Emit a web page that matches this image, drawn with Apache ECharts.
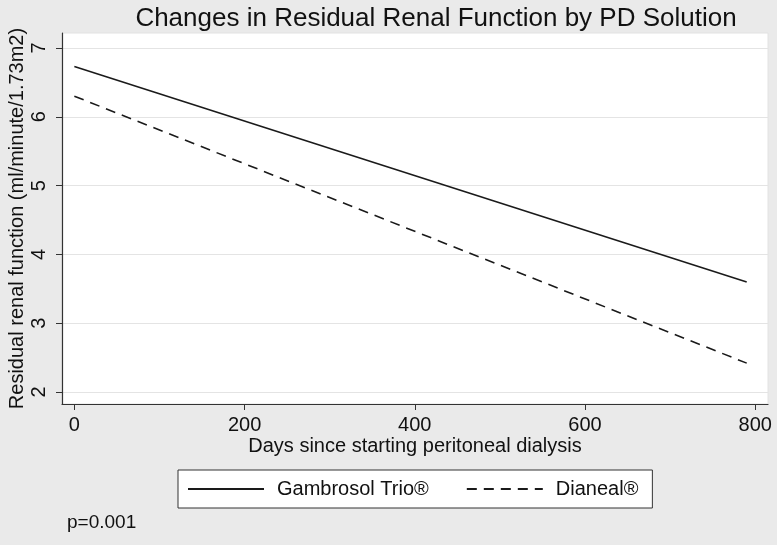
<!DOCTYPE html>
<html>
<head>
<meta charset="utf-8">
<script src="https://cdn.jsdelivr.net/npm/echarts@6/dist/echarts.min.js"></script>
<style>
html,body{margin:0;padding:0;background:#eaeaea;}
#chart{width:777px;height:545px;}
</style>
</head>
<body>
<div id="chart"></div>
<script>
var days = [0, 790];
var gambrosol = [6.73, 3.60];
var dianeal = [6.30, 2.42];
var xTicks = [0, 200, 400, 600, 800];
var yTicks = [2, 3, 4, 5, 6, 7];
var seriesNames = ['Gambrosol Trio®', 'Dianeal®'];

var FONT = '"Liberation Sans", Arial, Helvetica, sans-serif';
var chart = echarts.init(document.getElementById('chart'), null, {renderer: 'canvas'});

function pairs(xs, ys) { return xs.map(function (x, i) { return [x, ys[i]]; }); }

chart.setOption({
  backgroundColor: '#eaeaea',
  animation: false,
  textStyle: {fontFamily: FONT},
  title: {
    text: 'Changes in Residual Renal Function by PD Solution',
    left: 431, top: 1, textAlign: 'center',
    textStyle: {fontFamily: FONT, fontSize: 26, fontWeight: 'normal', color: '#111'}
  },
  grid: {
    left: 62, right: 9, top: 33, bottom: 141,
    containLabel: false, outerBoundsMode: 'none',
    show: true, backgroundColor: '#ffffff', borderColor: '#e2e2e2', borderWidth: 1
  },
  legend: {
    left: 178, top: 470,
    data: seriesNames,
    itemWidth: 76, itemHeight: 14, itemGap: 37,
    padding: [9, 14, 9, 9],
    borderColor: '#333', borderWidth: 1, backgroundColor: '#ffffff',
    itemStyle: {opacity: 0},
    textStyle: {fontFamily: FONT, fontSize: 20, color: '#111', padding: [0, 0, 0, 8]}
  },
  xAxis: {
    type: 'value', min: -14.5, max: 815,
    name: 'Days since starting peritoneal dialysis',
    nameLocation: 'middle', nameGap: 32, nameMoveOverlap: false,
    nameTextStyle: {fontFamily: FONT, fontSize: 20, color: '#111'},
    axisLine: {show: true, onZero: false, lineStyle: {color: '#333', width: 1.2}},
    axisTick: {show: true, length: 6, lineStyle: {color: '#333'}, customValues: xTicks},
    axisLabel: {customValues: xTicks, fontSize: 20, color: '#111', margin: 11, fontFamily: FONT},
    splitLine: {show: false}
  },
  yAxis: {
    type: 'value', min: 1.826, max: 7.218,
    name: 'Residual renal function (ml/minute/1.73m2)',
    nameLocation: 'middle', nameGap: 35, nameMoveOverlap: false,
    nameTextStyle: {fontFamily: FONT, fontSize: 20, color: '#111'},
    axisLine: {show: true, onZero: false, lineStyle: {color: '#333', width: 1.2}},
    axisTick: {show: true, length: 6, lineStyle: {color: '#333'}, customValues: yTicks},
    axisLabel: {customValues: yTicks, fontSize: 20, color: '#111', margin: 13, rotate: 90, fontFamily: FONT},
    splitLine: {show: true, lineStyle: {color: '#e4e4e4', width: 1.2}}
  },
  graphic: [{
    type: 'text', left: 67, top: 513,
    style: {text: 'p=0.001', fontFamily: FONT, fontSize: 19, fill: '#111'}
  }],
  series: [{
    name: seriesNames[0], type: 'line', data: pairs(days, gambrosol),
    symbol: 'none', lineStyle: {color: '#1a1a1a', width: 1.6, type: 'solid'},
    itemStyle: {color: '#1a1a1a'}
  }, {
    name: seriesNames[1], type: 'line', data: pairs(days, dianeal),
    symbol: 'none', lineStyle: {color: '#1a1a1a', width: 1.6, type: [10, 7]},
    itemStyle: {color: '#1a1a1a'}
  }]
});
</script>
</body>
</html>
